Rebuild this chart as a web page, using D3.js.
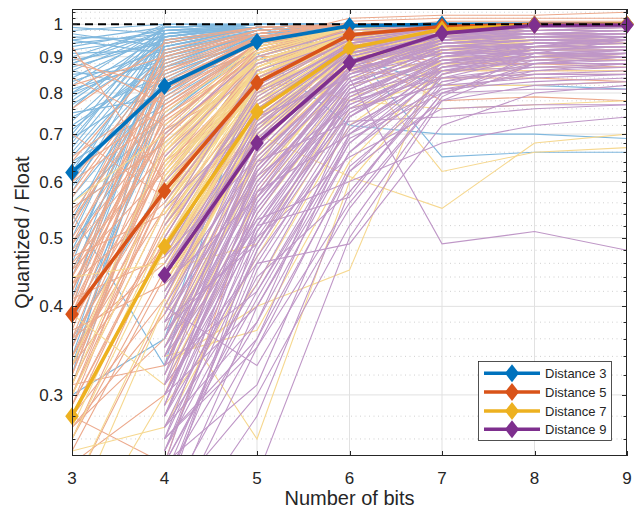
<!DOCTYPE html>
<html>
<head>
<meta charset="utf-8">
<script src="https://cdn.jsdelivr.net/npm/d3@7"></script>
<style>
  body { margin: 0; background: #fff; }
  svg text { font-family: "Liberation Sans", Arial, Helvetica, sans-serif; fill: #262626; }
</style>
</head>
<body>
<svg id="chart" width="637" height="512"></svg>
<script>
// ---- data -------------------------------------------------------------
const bits = [3, 4, 5, 6, 7, 8, 9];
const xTickValues = [3, 4, 5, 6, 7, 8, 9];
const yTickValues = [0.3, 0.4, 0.5, 0.6, 0.7, 0.8, 0.9, 1];
const yTickLabels = ["0.3", "0.4", "0.5", "0.6", "0.7", "0.8", "0.9", "1"];

const seriesNames = ["Distance 3", "Distance 5", "Distance 7", "Distance 9"];
const seriesColors = ["#0072BD", "#D95319", "#EDB120", "#7E2F8E"];
const runColors = ["#80b8de", "#eca98c", "#f6d890", "#bf97c7"];

// summary curves (thick lines with diamonds)
const dist3 = [0.618, 0.818, 0.945, 0.995, 1.0, 1.0, 1.0];
const dist5 = [0.390, 0.582, 0.827, 0.966, 0.993, 1.0, 1.0];
const dist7 = [0.280, 0.486, 0.753, 0.925, 0.984, 0.998, 1.0];
const dist9 = [null, 0.443, 0.680, 0.883, 0.971, 0.997, 0.998];

// individual runs (thin lines); null = no result at that bit width
const runs3 = [
  [0.95,0.99,1.00,1.00,1.00,1.00,1.00],
  [0.62,0.95,0.99,1.00,1.00,1.00,1.00],
  [0.45,0.80,0.97,0.99,1.00,1.00,1.00],
  [0.88,0.98,0.99,1.00,1.00,1.00,1.00],
  [0.34,0.78,0.93,0.99,1.00,1.00,1.00],
  [0.71,0.90,0.98,0.99,1.00,1.00,1.00],
  [0.52,0.86,0.96,1.00,1.00,1.00,1.00],
  [0.80,0.97,1.00,1.00,1.00,1.00,1.00],
  [0.31,0.70,0.90,0.98,0.99,1.00,1.00],
  [0.66,0.93,0.98,1.00,1.00,1.00,1.00],
  [0.92,0.96,0.99,1.00,1.00,1.00,1.00],
  [0.57,0.82,0.95,0.99,1.00,1.00,1.00],
  [0.40,0.88,0.97,0.99,1.00,1.00,1.00],
  [0.76,0.99,1.00,1.00,1.00,1.00,1.00],
  [0.49,0.75,0.92,0.98,0.99,1.00,1.00],
  [0.98,1.00,1.00,1.00,1.00,1.00,1.00],
  [0.83,0.92,0.97,0.99,1.00,1.00,1.00],
  [0.36,0.60,0.89,0.97,0.99,1.00,1.00],
  [0.60,0.98,0.99,1.00,1.00,1.00,1.00],
  [0.69,0.84,0.96,0.99,1.00,1.00,1.00],
  [0.44,0.93,0.99,1.00,1.00,1.00,1.00],
  [0.85,0.87,0.94,0.98,1.00,1.00,1.00],
  [0.54,0.33,0.90,0.97,0.99,1.00,1.00],
  [0.73,0.96,1.00,1.00,1.00,1.00,1.00],
  [0.33,0.81,0.96,0.99,1.00,1.00,1.00],
  [0.90,0.99,1.00,1.00,1.00,1.00,1.00],
  [0.64,0.77,0.93,0.99,1.00,1.00,1.00],
  [0.47,0.91,0.98,1.00,1.00,1.00,1.00],
  [0.79,0.94,0.99,1.00,1.00,1.00,1.00],
  [0.58,0.97,0.99,1.00,1.00,1.00,1.00],
  [0.38,0.72,0.91,0.98,0.99,1.00,1.00],
  [0.87,0.95,0.98,1.00,1.00,1.00,1.00],
  [0.68,0.99,1.00,1.00,1.00,1.00,1.00],
  [0.42,0.85,0.95,0.99,1.00,1.00,1.00],
  [0.81,0.89,0.97,0.99,1.00,1.00,1.00],
  [0.50,0.94,0.99,1.00,1.00,1.00,1.00],
  [0.75,0.79,0.96,0.93,0.65,0.66,0.66],
  [0.61,0.83,0.91,0.72,0.70,0.70,0.69],
  [0.94,0.97,0.99,0.90,0.82,0.82,0.81],
  [0.32,0.90,0.98,1.00,1.00,1.00,1.00],
  [0.55,0.68,0.88,0.97,0.99,1.00,1.00],
  [0.97,0.93,0.99,1.00,1.00,1.00,1.00],
  [0.70,1.00,1.00,1.00,1.00,1.00,1.00],
  [0.46,0.98,1.00,1.00,1.00,1.00,1.00],
  [0.30,0.36,0.86,0.97,0.99,1.00,1.00],
  [0.86,0.80,0.95,0.99,1.00,1.00,1.00],
  [0.78,0.96,0.99,1.00,1.00,1.00,1.00],
  [0.89,0.94,0.99,1.00,1.00,1.00,1.00],
  [0.65,0.91,0.98,1.00,1.00,1.00,1.00],
  [0.93,0.98,1.00,1.00,1.00,1.00,1.00],
  [0.84,0.97,0.99,1.00,1.00,1.00,1.00],
  [0.72,0.88,0.97,0.99,1.00,1.00,1.00],
  [0.96,0.95,0.99,1.00,1.00,1.00,1.00],
  [0.59,0.89,0.97,1.00,1.00,1.00,1.00],
  [0.82,0.99,1.00,1.00,1.00,1.00,1.00],
  [0.67,0.96,0.99,1.00,1.00,1.00,1.00],
  [0.91,0.92,0.98,1.00,1.00,1.00,1.00],
  [0.74,0.85,0.95,0.99,1.00,1.00,1.00],
  [0.53,0.92,0.98,1.00,1.00,1.00,1.00],
  [0.86,0.98,0.99,1.00,1.00,1.00,1.00],
  [0.63,0.87,0.96,0.99,1.00,1.00,1.00],
  [0.77,0.93,0.99,1.00,1.00,1.00,1.00],
  [0.99,0.97,1.00,1.00,1.00,1.00,1.00],
  [0.41,0.96,0.99,1.00,1.00,1.00,1.00],
  [0.56,0.74,0.94,0.99,1.00,1.00,1.00],
  [0.80,0.90,0.96,0.99,1.00,1.00,1.00],
  [0.69,0.97,1.00,1.00,1.00,1.00,1.00],
  [0.35,0.83,0.97,1.00,1.00,1.00,1.00],
  [0.88,1.00,1.00,1.00,1.00,1.00,1.00],
  [0.48,0.87,0.98,1.00,1.00,1.00,1.00],
  [0.95,0.91,0.98,1.00,1.00,1.00,1.00]
];

const runs5 = [
  [0.26,0.45,0.78,0.95,0.99,1.00,1.00],
  [0.31,0.58,0.84,0.97,1.00,1.00,1.00],
  [0.35,0.66,0.90,0.98,1.00,1.00,1.00],
  [0.29,0.52,0.75,0.93,0.99,1.00,1.00],
  [0.40,0.72,0.92,0.99,1.00,1.00,1.00],
  [0.45,0.62,0.86,0.97,0.99,1.00,1.00],
  [0.33,0.49,0.80,0.96,0.99,1.00,1.00],
  [0.50,0.78,0.95,0.99,1.00,1.00,1.00],
  [0.28,0.41,0.70,0.92,0.98,1.00,1.00],
  [0.38,0.85,0.97,1.00,1.00,1.00,1.00],
  [0.55,0.68,0.88,0.98,1.00,1.00,1.00],
  [0.27,0.36,0.67,0.90,0.97,0.99,1.00],
  [0.43,0.56,0.83,0.96,0.99,1.00,1.00],
  [0.60,0.88,0.98,1.00,1.00,1.00,1.00],
  [0.30,0.62,0.91,0.99,1.00,1.00,1.00],
  [0.36,0.75,0.94,0.99,1.00,1.00,1.00],
  [0.47,0.54,0.79,0.95,0.99,1.00,1.00],
  [0.24,0.30,0.62,0.88,0.97,0.99,1.00],
  [0.65,0.80,0.93,0.99,1.00,1.00,1.00],
  [0.41,0.47,0.73,0.94,0.99,1.00,1.00],
  [0.32,0.70,0.89,0.97,1.00,1.00,1.00],
  [0.52,0.92,0.99,1.00,1.00,1.00,1.00],
  [0.93,0.60,0.87,0.98,1.00,1.00,1.00],
  [0.88,0.82,0.96,0.99,1.00,1.00,1.00],
  [0.34,0.58,0.85,0.94,0.88,0.88,0.87],
  [0.39,0.64,0.81,0.86,0.84,0.84,0.83],
  [0.44,0.73,0.90,0.91,0.78,0.79,0.78],
  [0.29,0.51,0.77,0.90,0.93,0.93,0.93],
  [0.57,0.86,0.95,1.02,1.03,1.03,1.04],
  [0.48,0.69,0.91,1.01,1.02,1.02,1.02],
  [0.37,0.43,0.69,0.90,0.96,0.99,1.00],
  [0.27,0.39,0.74,0.93,0.99,1.00,1.00],
  [0.62,0.76,0.92,0.99,1.00,1.00,1.00],
  [0.42,0.89,0.97,1.00,1.00,1.00,1.00],
  [0.31,0.33,0.65,0.87,0.96,0.99,1.00],
  [0.76,0.94,0.99,1.00,1.00,1.00,1.00],
  [0.46,0.66,0.87,0.97,0.99,1.00,1.00],
  [0.34,0.55,0.82,0.95,0.95,0.96,0.96],
  [0.70,0.57,0.85,0.96,0.99,1.00,1.00],
  [0.28,0.24,0.58,0.86,0.97,1.00,1.00],
  [0.53,0.81,0.94,0.98,0.90,0.90,0.89],
  [0.40,0.95,0.99,1.00,1.00,1.00,1.00],
  [0.33,0.60,0.89,0.96,0.91,0.91,0.90],
  [0.49,0.71,0.84,0.94,0.99,1.00,1.00],
  [0.36,0.46,0.76,0.92,0.98,1.00,1.00],
  [0.22,0.40,0.72,0.91,0.97,0.98,0.98],
  [0.82,0.90,0.97,1.00,1.00,1.00,1.00],
  [0.37,0.80,0.95,0.99,1.00,1.00,1.00],
  [0.32,0.67,0.91,0.98,1.00,1.00,1.00],
  [0.44,0.84,0.96,0.99,1.00,1.00,1.00],
  [0.29,0.61,0.88,0.97,0.99,1.00,1.00],
  [0.51,0.90,0.98,1.00,1.00,1.00,1.00],
  [0.35,0.71,0.93,0.99,1.00,1.00,1.00],
  [0.42,0.77,0.94,0.99,1.00,1.00,1.00],
  [0.30,0.55,0.83,0.96,0.99,1.00,1.00],
  [0.58,0.87,0.97,1.00,1.00,1.00,1.00],
  [0.39,0.74,0.92,0.98,0.98,0.98,0.98],
  [0.33,0.65,0.89,0.97,0.94,0.94,0.94],
  [0.47,0.82,0.96,0.99,1.00,1.00,1.00],
  [0.26,0.50,0.81,0.95,0.97,0.97,0.97],
  [0.64,0.91,0.98,1.00,1.00,1.00,1.00],
  [0.38,0.63,0.86,0.96,0.92,0.92,0.92],
  [0.45,0.79,0.93,0.98,0.99,0.99,0.99],
  [0.31,0.69,0.92,0.99,1.00,1.00,1.00],
  [0.54,0.83,0.95,0.99,1.00,1.00,1.00],
  [0.36,0.59,0.84,0.97,1.00,1.00,1.00],
  [0.84,0.72,0.91,0.98,1.00,1.00,1.00],
  [0.41,0.76,0.94,0.97,0.86,0.86,0.86],
  [0.28,0.53,0.80,0.94,0.98,0.99,0.99],
  [0.49,0.86,0.97,1.00,1.00,1.00,1.00],
  [0.34,0.64,0.90,0.98,0.99,1.00,1.00],
  [0.60,0.74,0.90,0.97,0.99,1.00,1.00],
  [0.43,0.70,0.88,0.95,0.96,0.96,0.96],
  [0.30,0.58,0.87,0.98,1.01,1.01,1.01],
  [0.39,0.81,0.96,1.00,1.00,1.00,1.00],
  [0.25,0.44,0.76,0.93,0.98,1.00,1.00],
  [0.90,0.77,0.93,0.99,1.00,1.00,1.00]
];

const runs7 = [
  [null,0.47,0.76,0.93,0.97,0.98,0.98],
  [0.20,0.40,0.70,0.90,0.95,0.96,0.96],
  [0.30,0.55,0.82,0.96,0.99,1.00,1.00],
  [null,0.36,0.64,0.88,0.93,0.94,0.95],
  [null,0.62,0.87,0.98,1.00,1.00,1.00],
  [null,0.44,0.73,0.92,0.96,0.97,0.97],
  [0.27,0.51,0.79,0.95,0.99,1.00,1.00],
  [null,0.32,0.60,0.86,0.91,0.92,0.92],
  [null,0.58,0.85,0.97,0.98,0.98,0.98],
  [null,0.42,0.68,0.91,0.98,1.00,1.00],
  [null,0.66,0.90,0.99,1.00,1.00,1.00],
  [0.26,0.48,0.72,0.84,0.89,0.90,0.90],
  [0.39,0.31,0.57,0.82,0.88,0.89,0.89],
  [null,0.38,0.66,0.89,0.94,0.95,0.95],
  [null,0.53,0.77,0.94,0.99,1.00,1.00],
  [0.56,0.70,0.88,0.97,1.00,1.00,1.00],
  [null,0.45,0.49,0.79,0.86,0.87,0.87],
  [null,0.34,0.63,0.93,0.97,0.97,0.97],
  [null,0.60,0.83,0.90,0.62,0.66,0.67],
  [null,0.45,0.70,0.61,0.55,0.68,0.70],
  [null,0.64,0.88,0.98,0.82,0.82,0.83],
  [null,0.41,0.69,0.91,0.94,0.94,0.94],
  [null,0.56,0.80,0.87,0.88,0.89,0.89],
  [0.18,0.30,0.54,0.80,0.86,0.88,0.88],
  [null,0.59,0.86,0.96,0.99,1.00,1.00],
  [0.44,0.46,0.78,0.95,0.97,0.97,0.98],
  [null,0.37,0.71,0.94,0.99,1.00,1.00],
  [null,0.52,0.84,0.98,1.00,1.00,1.00],
  [null,0.43,0.74,0.92,0.96,0.97,0.97],
  [null,0.57,0.81,0.95,0.99,1.00,1.00],
  [0.25,0.27,0.47,0.76,0.84,0.85,0.85],
  [null,0.49,0.80,0.96,1.00,1.00,1.00],
  [null,0.75,0.93,0.99,1.00,1.00,1.00],
  [null,0.33,0.40,0.45,0.92,0.95,0.96],
  [0.31,0.61,0.86,0.78,0.76,0.77,0.78],
  [null,0.54,0.83,0.97,1.00,1.00,1.00],
  [null,0.35,0.65,0.89,0.93,0.93,0.93],
  [null,0.47,0.76,0.94,0.99,1.00,1.00],
  [null,0.44,0.70,0.93,0.96,0.97,0.97],
  [null,0.63,0.91,0.99,1.00,1.00,1.00],
  [0.22,0.41,0.26,0.60,0.85,0.90,0.91],
  [null,0.39,0.72,0.91,0.94,0.94,0.94],
  [0.33,0.68,0.90,0.97,0.98,0.99,0.99],
  [null,0.52,0.78,0.90,0.91,0.92,0.92],
  [null,0.36,0.61,0.85,0.95,0.98,0.99],
  [null,0.55,0.84,0.97,0.99,0.99,0.99],
  [null,0.60,0.88,0.98,1.00,1.00,1.00],
  [null,0.48,0.79,0.95,0.98,0.98,0.98],
  [null,0.65,0.90,0.98,0.99,1.00,1.00],
  [null,0.52,0.82,0.96,0.97,0.97,0.97],
  [null,0.58,0.86,0.97,0.99,1.00,1.00],
  [null,0.44,0.77,0.94,0.96,0.96,0.96],
  [null,0.70,0.93,0.99,1.00,1.00,1.00],
  [null,0.50,0.81,0.93,0.92,0.92,0.92],
  [null,0.57,0.87,0.96,0.95,0.95,0.95],
  [null,0.46,0.75,0.92,0.97,0.98,0.98],
  [null,0.62,0.85,0.95,0.96,0.97,0.97],
  [null,0.54,0.83,0.97,1.00,1.00,1.00],
  [null,0.67,0.89,0.96,0.93,0.93,0.93],
  [null,0.42,0.73,0.90,0.91,0.91,0.90],
  [null,0.59,0.87,0.98,0.99,0.99,0.99],
  [null,0.51,0.80,0.94,0.97,0.98,0.98],
  [null,0.64,0.91,0.99,1.00,1.00,1.00],
  [null,0.49,0.78,0.91,0.86,0.86,0.86],
  [null,0.56,0.85,0.95,0.98,0.99,0.99],
  [null,0.72,0.94,0.99,1.00,1.00,1.00],
  [null,0.45,0.76,0.93,0.95,0.95,0.95],
  [null,0.61,0.84,0.92,0.90,0.90,0.90],
  [null,0.53,0.86,0.98,1.00,1.00,1.00],
  [null,0.66,0.92,0.99,1.00,1.00,1.00],
  [null,0.47,0.74,0.89,0.94,0.96,0.96],
  [null,0.58,0.83,0.96,0.99,1.00,1.00],
  [null,0.50,0.82,0.97,0.98,0.98,0.98],
  [null,0.63,0.89,0.97,0.96,0.96,0.96],
  [null,0.43,0.71,0.88,0.93,0.94,0.94],
  [null,0.34,0.37,0.64,0.87,0.93,0.94],
  [null,0.29,0.43,0.72,0.89,0.92,0.92]
];

const runs9 = [
  [null,0.44,0.68,0.88,0.95,0.96,0.96],
  [null,0.30,0.55,0.80,0.90,0.92,0.93],
  [null,0.38,0.62,0.85,0.96,0.99,1.00],
  [null,0.25,0.48,0.75,0.86,0.89,0.90],
  [null,0.52,0.78,0.94,0.99,1.00,1.00],
  [null,0.33,0.60,0.83,0.92,0.94,0.94],
  [null,0.22,0.45,0.72,0.84,0.87,0.88],
  [null,0.41,0.73,0.91,0.98,0.99,0.99],
  [null,0.28,0.52,0.78,0.89,0.91,0.91],
  [null,0.47,0.65,0.86,0.94,0.96,0.97],
  [null,0.35,0.58,0.70,0.81,0.83,0.84],
  [null,0.20,0.40,0.68,0.85,0.90,0.92],
  [null,0.60,0.82,0.95,0.99,1.00,1.00],
  [null,0.32,0.70,0.90,0.97,0.98,0.98],
  [null,0.26,0.36,0.62,0.78,0.82,0.83],
  [null,0.43,0.57,0.76,0.82,0.84,0.85],
  [null,0.37,0.50,0.65,0.76,0.77,0.77],
  [null,0.29,0.63,0.87,0.91,0.91,0.90],
  [null,0.55,0.74,0.84,0.49,0.51,0.48],
  [null,0.31,0.46,0.49,0.72,0.80,0.82],
  [null,0.40,0.33,0.55,0.80,0.88,0.90],
  [null,0.24,0.56,0.82,0.93,0.95,0.96],
  [null,0.50,0.80,0.93,0.97,0.98,0.99],
  [null,0.34,0.66,0.89,0.95,0.97,0.97],
  [null,0.27,0.43,0.74,0.88,0.92,0.93],
  [null,0.45,0.71,0.92,0.98,0.99,1.00],
  [null,0.21,0.51,0.79,0.90,0.93,0.95],
  [null,0.39,0.61,0.77,0.87,0.88,0.88],
  [null,0.65,0.88,0.97,1.00,1.00,1.00],
  [null,0.30,0.54,0.81,0.92,0.94,0.95],
  [null,0.36,0.69,0.90,0.96,0.98,0.98],
  [null,0.23,0.38,0.66,0.83,0.86,0.87],
  [null,0.48,0.76,0.93,0.97,0.97,0.96],
  [null,0.33,0.59,0.84,0.94,0.95,0.95],
  [null,0.42,0.64,0.73,0.74,0.76,0.77],
  [null,0.28,0.47,0.71,0.87,0.90,0.91],
  [null,0.56,0.84,0.96,0.99,1.00,1.00],
  [null,0.26,0.57,0.86,0.94,0.96,0.97],
  [null,0.35,0.53,0.60,0.68,0.72,0.74],
  [null,0.46,0.72,0.88,0.95,0.97,0.98],
  [null,0.19,0.35,0.63,0.81,0.85,0.86],
  [null,0.31,0.67,0.91,0.98,0.99,0.99],
  [null,0.70,0.90,0.98,1.00,1.00,1.00],
  [null,0.38,0.49,0.80,0.89,0.90,0.90],
  [null,0.25,0.44,0.58,0.83,0.88,0.89],
  [null,0.53,0.86,0.95,0.96,0.96,0.96],
  [null,0.29,0.62,0.85,0.93,0.94,0.94],
  [null,0.24,0.41,0.69,0.80,0.81,0.81],
  [null,0.21,0.30,0.52,0.79,0.91,0.95],
  [null,0.34,0.52,0.57,0.85,0.93,0.96],
  [null,0.36,0.64,0.87,0.95,0.97,0.97],
  [null,0.29,0.58,0.84,0.94,0.96,0.96],
  [null,0.42,0.70,0.90,0.97,0.98,0.98],
  [null,0.25,0.52,0.81,0.92,0.94,0.95],
  [null,0.33,0.61,0.86,0.93,0.93,0.93],
  [null,0.48,0.77,0.93,0.98,0.99,0.99],
  [null,0.27,0.50,0.77,0.88,0.90,0.90],
  [null,0.39,0.68,0.89,0.96,0.97,0.98],
  [null,0.31,0.55,0.79,0.91,0.93,0.93],
  [null,0.23,0.46,0.74,0.87,0.91,0.92],
  [null,0.44,0.74,0.92,0.97,0.98,0.98],
  [null,0.35,0.63,0.83,0.90,0.91,0.91],
  [null,0.28,0.59,0.85,0.95,0.97,0.98],
  [null,0.50,0.81,0.95,0.99,1.00,1.00],
  [null,0.32,0.56,0.80,0.86,0.87,0.87],
  [null,0.40,0.66,0.88,0.94,0.95,0.95],
  [null,0.26,0.49,0.76,0.89,0.92,0.92],
  [null,0.37,0.72,0.91,0.96,0.96,0.96],
  [null,0.30,0.53,0.78,0.84,0.85,0.85],
  [null,0.45,0.69,0.86,0.92,0.93,0.93],
  [null,0.22,0.48,0.78,0.91,0.94,0.95],
  [null,0.34,0.62,0.87,0.97,0.99,0.99],
  [null,0.41,0.75,0.94,0.98,0.99,0.99],
  [null,0.28,0.54,0.82,0.93,0.95,0.95],
  [null,0.36,0.60,0.82,0.89,0.89,0.89],
  [null,0.24,0.42,0.70,0.86,0.90,0.91],
  [null,0.47,0.79,0.94,0.97,0.97,0.97],
  [null,0.33,0.57,0.83,0.95,0.98,0.99],
  [null,0.38,0.65,0.85,0.91,0.92,0.92],
  [null,0.30,0.51,0.75,0.90,0.94,0.95],
  [null,0.24,0.31,0.62,0.84,0.90,0.92],
  [null,0.21,0.36,0.70,0.88,0.93,0.94],
  [null,0.30,0.40,0.66,0.86,0.91,0.92],
  [null,0.18,0.28,0.58,0.82,0.89,0.91],
  [null,0.27,0.38,0.74,0.90,0.94,0.95],
  [null,0.20,0.23,0.50,0.78,0.88,0.90],
  [null,0.33,0.42,0.68,0.87,0.92,0.93],
  [null,0.26,0.35,0.56,0.80,0.86,0.88]
];

// ---- layout -----------------------------------------------------------
const plot = { left: 72, right: 627, top: 9, bottom: 456 };
const svg = d3.select("#chart");

const x = d3.scaleLinear().domain([3, 9]).range([plot.left, plot.right]);
const y = d3.scaleLog().domain([0.246, 1.051]).range([plot.bottom, plot.top]);

// minor grid every 0.02 on the log axis
const minorValues = d3.range(0.26, 1.05, 0.02)
  .map(v => +v.toFixed(2))
  .filter(v => !yTickValues.some(t => Math.abs(t - v) < 1e-6));

svg.append("defs").append("clipPath").attr("id", "plotClip")
  .append("rect")
  .attr("x", plot.left).attr("y", plot.top)
  .attr("width", plot.right - plot.left).attr("height", plot.bottom - plot.top);

// ---- grid -------------------------------------------------------------
const grid = svg.append("g");
grid.selectAll("line.minor").data(minorValues).join("line")
  .attr("x1", plot.left).attr("x2", plot.right)
  .attr("y1", d => y(d)).attr("y2", d => y(d))
  .attr("stroke", "#c4c4c4").attr("stroke-width", 0.8)
  .attr("stroke-dasharray", "1,3.5");
grid.selectAll("line.major").data(yTickValues).join("line")
  .attr("x1", plot.left).attr("x2", plot.right)
  .attr("y1", d => y(d)).attr("y2", d => y(d))
  .attr("stroke", "#e1e1e1").attr("stroke-width", 1);
grid.selectAll("line.vert").data(xTickValues.slice(1, -1)).join("line")
  .attr("x1", d => x(d)).attr("x2", d => x(d))
  .attr("y1", plot.top).attr("y2", plot.bottom)
  .attr("stroke", "#e1e1e1").attr("stroke-width", 1);

// ---- lines ------------------------------------------------------------
const line = d3.line()
  .defined(d => d != null)
  .x((d, i) => x(bits[i]))
  .y(d => y(d));

const runs = [runs3, runs5, runs7, runs9];
const summary = [dist3, dist5, dist7, dist9];

const lineLayer = svg.append("g").attr("clip-path", "url(#plotClip)");
runs.forEach((group, gi) => {
  lineLayer.append("g").selectAll("path").data(group).join("path")
    .attr("d", line)
    .attr("fill", "none")
    .attr("stroke", runColors[gi])
    .attr("stroke-width", 1.1);
});

summary.forEach((s, gi) => {
  lineLayer.append("path")
    .attr("d", line(s))
    .attr("fill", "none")
    .attr("stroke", seriesColors[gi])
    .attr("stroke-width", 3.6)
    .attr("stroke-linejoin", "round");
});

// reference level at 1
lineLayer.append("line")
  .attr("x1", x(3)).attr("x2", x(9))
  .attr("y1", y(1)).attr("y2", y(1))
  .attr("stroke", "#000").attr("stroke-width", 2)
  .attr("stroke-dasharray", "8,5");

// diamond markers
const diamond = (hw, hh) => `M0,${-hh}L${hw},0L0,${hh}L${-hw},0Z`;
summary.forEach((s, gi) => {
  svg.append("g").selectAll("path")
    .data(s.map((v, i) => ({ v, b: bits[i] })).filter(d => d.v != null))
    .join("path")
    .attr("transform", d => `translate(${x(d.b)},${y(d.v)})`)
    .attr("d", diamond(6.8, 8.8))
    .attr("fill", seriesColors[gi]);
});

// ---- axes box and ticks -------------------------------------------------
const axisColor = "#262626";
const ax = svg.append("g").attr("stroke", axisColor).attr("stroke-width", 1).attr("fill", "none");
ax.append("rect")
  .attr("x", plot.left + 0.5).attr("y", plot.top + 0.5)
  .attr("width", plot.right - plot.left - 1).attr("height", plot.bottom - plot.top - 1);

const majLen = 5, minLen = 3.5;
yTickValues.forEach(v => {
  const yy = Math.round(y(v)) + 0.5;
  ax.append("line").attr("x1", plot.left).attr("x2", plot.left + majLen).attr("y1", yy).attr("y2", yy);
  ax.append("line").attr("x1", plot.right).attr("x2", plot.right - majLen).attr("y1", yy).attr("y2", yy);
});
minorValues.forEach(v => {
  const yy = Math.round(y(v)) + 0.5;
  ax.append("line").attr("x1", plot.left).attr("x2", plot.left + minLen).attr("y1", yy).attr("y2", yy);
  ax.append("line").attr("x1", plot.right).attr("x2", plot.right - minLen).attr("y1", yy).attr("y2", yy);
});
xTickValues.forEach(v => {
  const xx = Math.round(x(v)) + 0.5;
  ax.append("line").attr("x1", xx).attr("x2", xx).attr("y1", plot.bottom).attr("y2", plot.bottom - majLen);
  ax.append("line").attr("x1", xx).attr("x2", xx).attr("y1", plot.top).attr("y2", plot.top + majLen);
});

// ---- tick labels --------------------------------------------------------
svg.append("g").selectAll("text").data(xTickValues).join("text")
  .attr("x", d => x(d)).attr("y", 484)
  .attr("text-anchor", "middle")
  .style("font-size", "17px")
  .text(d => d);

svg.append("g").selectAll("text").data(yTickValues).join("text")
  .attr("x", 63).attr("y", d => y(d))
  .attr("dy", "0.36em")
  .attr("text-anchor", "end")
  .style("font-size", "17px")
  .text((d, i) => yTickLabels[i]);

// ---- axis titles --------------------------------------------------------
svg.append("text")
  .attr("x", (plot.left + plot.right) / 2).attr("y", 505)
  .attr("text-anchor", "middle")
  .style("font-size", "20px")
  .text("Number of bits");

svg.append("text")
  .attr("transform", `translate(29,${(plot.top + plot.bottom) / 2}) rotate(-90)`)
  .attr("text-anchor", "middle")
  .style("font-size", "20px")
  .text("Quantized / Float");

// ---- legend -------------------------------------------------------------
const legend = svg.append("g");
legend.append("rect")
  .attr("x", 478.5).attr("y", 361.5).attr("width", 133).attr("height", 79)
  .attr("fill", "#fff").attr("stroke", axisColor).attr("stroke-width", 0.8);
const legendRows = [373.3, 392, 411, 429.3];
seriesNames.forEach((name, i) => {
  const g = legend.append("g").attr("transform", `translate(0,${legendRows[i]})`);
  g.append("line").attr("x1", 484).attr("x2", 540).attr("y1", 0).attr("y2", 0)
    .attr("stroke", seriesColors[i]).attr("stroke-width", 3.6);
  g.append("path").attr("transform", "translate(512,0)")
    .attr("d", diamond(7, 9)).attr("fill", seriesColors[i]);
  g.append("text").attr("x", 545).attr("y", 0).attr("dy", "0.36em")
    .style("font-size", "13px").text(name);
});
</script>
</body>
</html>
